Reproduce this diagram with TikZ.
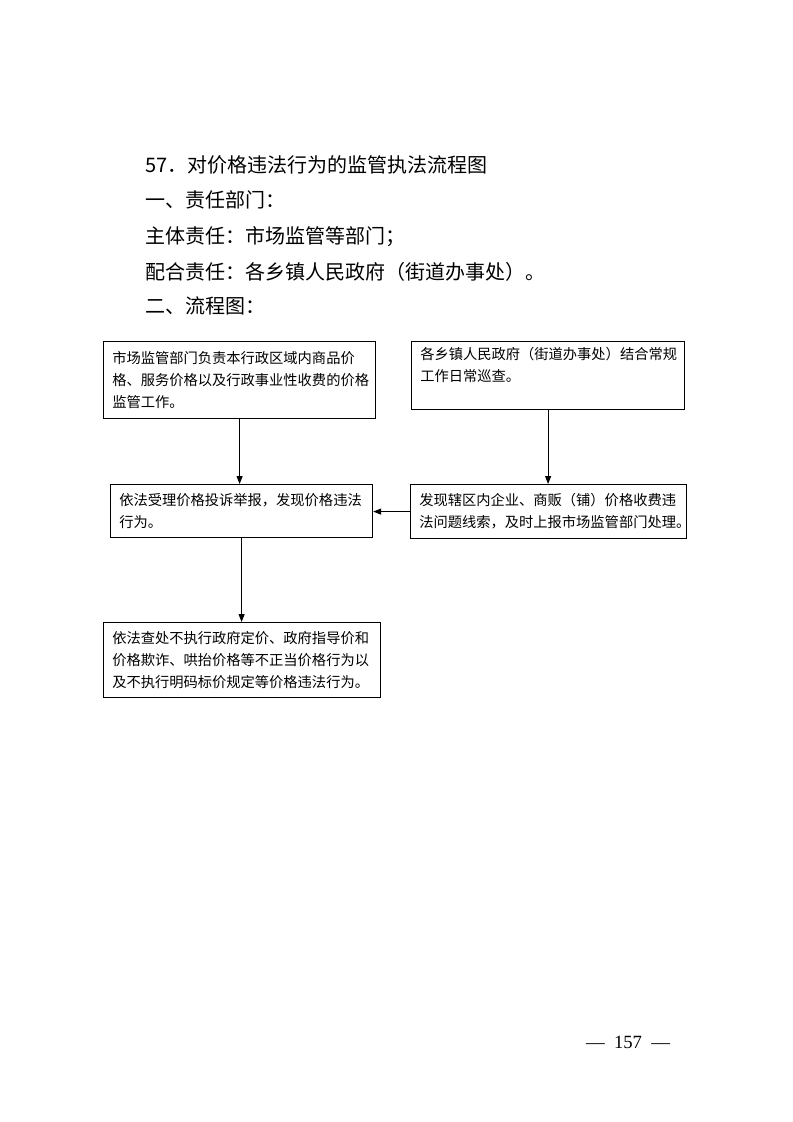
\documentclass[tikz,border=0pt]{standalone}
\usepackage{fontspec}
\setmainfont{Noto Sans CJK SC}
\newfontfamily\cjk{Noto Sans CJK SC}
\newfontfamily\serifnum{Liberation Serif}
\usetikzlibrary{arrows.meta}
\begin{document}
\begin{tikzpicture}[x=0.75pt,y=-0.75pt,
  box/.style={draw,line width=0.9pt,anchor=north west,inner xsep=6.5pt,inner ysep=0pt,
    align=left,font=\cjk\fontsize{10.7pt}{16.5pt}\selectfont},
  heading/.style={anchor=west,inner sep=0pt,font=\cjk\fontsize{15pt}{18pt}\selectfont},
  conn/.style={line width=0.75pt,-{Triangle[length=6pt,width=4.5pt]}}]
\path[use as bounding box] (0,0) rectangle (793,1122);

\node[heading] (title) at (145,165) {57．对价格违法行为的监管执法流程图};
\node[heading] (h1) at (145,200) {一、责任部门：};
\node[heading] (h2) at (145,237) {主体责任：市场监管等部门；};
\node[heading] (h3) at (145,272) {配合责任：各乡镇人民政府（街道办事处）。};
\node[heading] (h4) at (145,306) {二、流程图：};

\node[box,minimum width=204pt,minimum height=57.75pt,text width=191pt] (b1) at (103,341)
  {市场监管部门负责本行政区域内商品价\\格、服务价格以及行政事业性收费的价格\\监管工作。};
\node[box,minimum width=204.75pt,minimum height=51pt,text width=191.75pt] (b2) at (411,341)
  {各乡镇人民政府（街道办事处）结合常规\\工作日常巡查。\\\mbox{}};
\node[box,minimum width=196.5pt,minimum height=39.75pt,text width=183.5pt] (b3) at (110,484)
  {依法受理价格投诉举报，发现价格违法\\行为。};
\node[box,minimum width=207pt,minimum height=40.5pt,text width=194pt] (b4) at (410,484)
  {发现辖区内企业、商贩（铺）价格收费违\\法问题线索，及时上报市场监管部门处理。};
\node[box,minimum width=207.75pt,minimum height=56.25pt,text width=194.75pt] (b5) at (103,622)
  {依法查处不执行政府定价、政府指导价和\\价格欺诈、哄抬价格等不正当价格行为以\\及不执行明码标价规定等价格违法行为。};

\draw[conn] (b1.south) -- (b1.south |- b3.north);
\draw[conn] (b2.south) -- (b2.south |- b4.north);
\draw[conn] (b4.west) -- (b4.west -| b3.east);
\draw[conn] (b3.south) -- (b3.south |- b5.north);

\node[anchor=center,inner sep=0pt,font=\serifnum\fontsize{14pt}{16pt}\selectfont] (page) at (628,1042) {—\enspace157\enspace—};
\end{tikzpicture}
\end{document}
